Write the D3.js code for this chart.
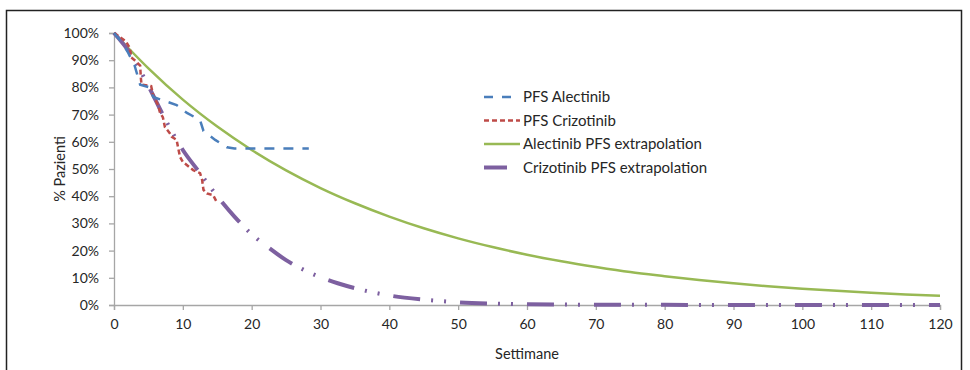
<!DOCTYPE html>
<html>
<head>
<meta charset="utf-8">
<script src="https://cdn.jsdelivr.net/npm/d3@7"></script>
<style>
  body { margin: 0; background: #fff; }
  text { font-family: Lato, "Open Sans", sans-serif; }
</style>
</head>
<body>
<div id="chart-container"></div>
<script>
// data (weeks, % patients)
const xTicks = d3.range(0, 121, 10);
const yTicks = d3.range(0, 101, 10);

const alectinibKmWeeks = [0, 1, 2, 3, 3.8, 5.2, 5.7, 9.1, 10.6, 12.5, 13, 14.7, 16.4, 17.5, 28.3];
const alectinibKmPct   = [100, 97, 93, 88, 81, 80, 76.5, 73.5, 70.6, 68, 64, 60.7, 58, 57.5, 57.5];

const crizotinibKmWeeks = [0, 1.7, 2.3, 2.5, 3, 3.8, 3.9, 4, 5.4, 5.7, 6.4, 6.7, 7.1, 7.4, 8.1, 8.4, 9.1, 9.3, 9.6, 10, 11.5, 12.5, 12.8, 13, 13.5, 14.4, 15];
const crizotinibKmPct   = [100, 97, 94.5, 91, 90, 88, 83.5, 81, 80.5, 77, 73.5, 70.6, 69, 65.4, 63.2, 61.8, 60.7, 58, 54.4, 52.6, 49.6, 48.5, 46, 42.3, 41, 40.4, 37.5];

const alectinibExtWeeks = d3.range(0, 121, 5);
const alectinibExtPct   = [100, 87, 75.5, 65.6, 57, 49.5, 43, 37.4, 32.5, 28.2, 24.5, 21.3, 18.5, 16.1, 14, 12.1, 10.6, 9.2, 8, 6.9, 6, 5.2, 4.5, 3.9, 3.4];

const crizotinibExtWeeks = [0, 2.5, 5, 7.5, 10, 12.5, 15, 17.5, 20, 22.5, 25, 27.5, 30, 32.5, 35, 37.5, 40, 45, 50, 55, 60, 70, 80, 90, 100, 110, 120];
const crizotinibExtPct   = [100, 92, 80.5, 68, 57, 48.5, 40, 32.5, 26, 21, 16.5, 13, 10.2, 8, 6.2, 4.7, 3.5, 2, 1, 0.5, 0.25, 0.1, 0.05, 0.02, 0, 0, 0];

const seriesNames = ["PFS Alectinib", "PFS Crizotinib", "Alectinib PFS extrapolation", "Crizotinib PFS extrapolation"];

/** CONSTANTS */
const width = 970;
const height = 370;
const margins = { top: 33, bottom: 65, left: 114, right: 30 };
const axisColor = "#a6a6a6";
const textColor = "#262626";

const series = [
  { name: seriesNames[0], weeks: alectinibKmWeeks, pct: alectinibKmPct, color: "#4a7ebb", w: 2.5, dash: "10,9", curve: d3.curveLinear },
  { name: seriesNames[1], weeks: crizotinibKmWeeks, pct: crizotinibKmPct, color: "#be4b48", w: 2.5, dash: "5,3", curve: d3.curveLinear },
  { name: seriesNames[2], weeks: alectinibExtWeeks, pct: alectinibExtPct, color: "#98b954", w: 2.5, dash: null, curve: d3.curveMonotoneX },
  { name: seriesNames[3], weeks: crizotinibExtWeeks, pct: crizotinibExtPct, color: "#7d60a0", w: 4, dash: "27,11,2,11,2,14", curve: d3.curveMonotoneX }
];

/** SCALES */
const xScale = d3.scaleLinear()
  .domain([0, 120])
  .range([margins.left, width - margins.right]);

const yScale = d3.scaleLinear()
  .domain([0, 100])
  .range([height - margins.bottom, margins.top]);

/** DRAWING ELEMENTS */
const svg = d3.select("#chart-container")
  .append("svg")
  .attr("width", width)
  .attr("height", height);

// frame round the figure
svg.append("rect")
  .attr("x", 6.5)
  .attr("y", 10.5)
  .attr("width", 955)
  .attr("height", 400)
  .attr("fill", "none")
  .attr("stroke", "#222")
  .attr("stroke-width", 1.5);

// y axis
const yAxis = svg.append("g")
  .attr("transform", `translate(${margins.left},0)`)
  .call(d3.axisLeft(yScale).tickValues(yTicks).tickFormat(d => d + "%").tickSize(5).tickPadding(10));

// x axis
const xAxis = svg.append("g")
  .attr("transform", `translate(0,${height - margins.bottom})`)
  .call(d3.axisBottom(xScale).tickValues(xTicks).tickSize(5).tickPadding(9));

[yAxis, xAxis].forEach(g => {
  g.select(".domain").attr("stroke", axisColor).attr("stroke-width", 1.3);
  g.selectAll(".tick line").attr("stroke", axisColor).attr("stroke-width", 1.3);
  g.selectAll(".tick text")
    .attr("fill", textColor)
    .style("font-size", "14px")
    .style("font-family", "Lato, sans-serif");
});

// axis titles
svg.append("text")
  .attr("x", (margins.left + width - margins.right) / 2)
  .attr("y", 359)
  .attr("text-anchor", "middle")
  .attr("fill", textColor)
  .style("font-size", "14.5px")
  .text("Settimane");

svg.append("text")
  .attr("transform", `translate(60,${(yScale(0) + yScale(100)) / 2}) rotate(-90)`)
  .attr("text-anchor", "middle")
  .attr("dy", "0.35em")
  .attr("fill", textColor)
  .style("font-size", "14.5px")
  .text("% Pazienti");

// lines, drawn green and purple first so the KM curves sit on top like the original
const drawOrder = [2, 3, 1, 0];
drawOrder.forEach(i => {
  const s = series[i];
  const pts = s.weeks.map((w, j) => [w, s.pct[j]]);
  svg.append("path")
    .datum(pts)
    .attr("fill", "none")
    .attr("stroke", s.color)
    .attr("stroke-width", s.w)
    .attr("stroke-dasharray", s.dash)
    .attr("d", d3.line()
      .x(d => xScale(d[0]))
      .y(d => yScale(d[1]))
      .curve(s.curve));
});

// legend
const legend = svg.append("g").attr("transform", "translate(484,97)");
series.forEach((s, i) => {
  const row = legend.append("g").attr("transform", `translate(0,${i * 23.5})`);
  row.append("line")
    .attr("x1", 0).attr("x2", 36)
    .attr("y1", 0).attr("y2", 0)
    .attr("stroke", s.color)
    .attr("stroke-width", s.w)
    .attr("stroke-dasharray", i === 3 ? "23,100" : (i === 0 ? "9,9" : s.dash));
  row.append("text")
    .attr("x", 39)
    .attr("dy", "0.35em")
    .attr("fill", textColor)
    .style("font-size", "15px")
    .text(s.name);
});
</script>
</body>
</html>
